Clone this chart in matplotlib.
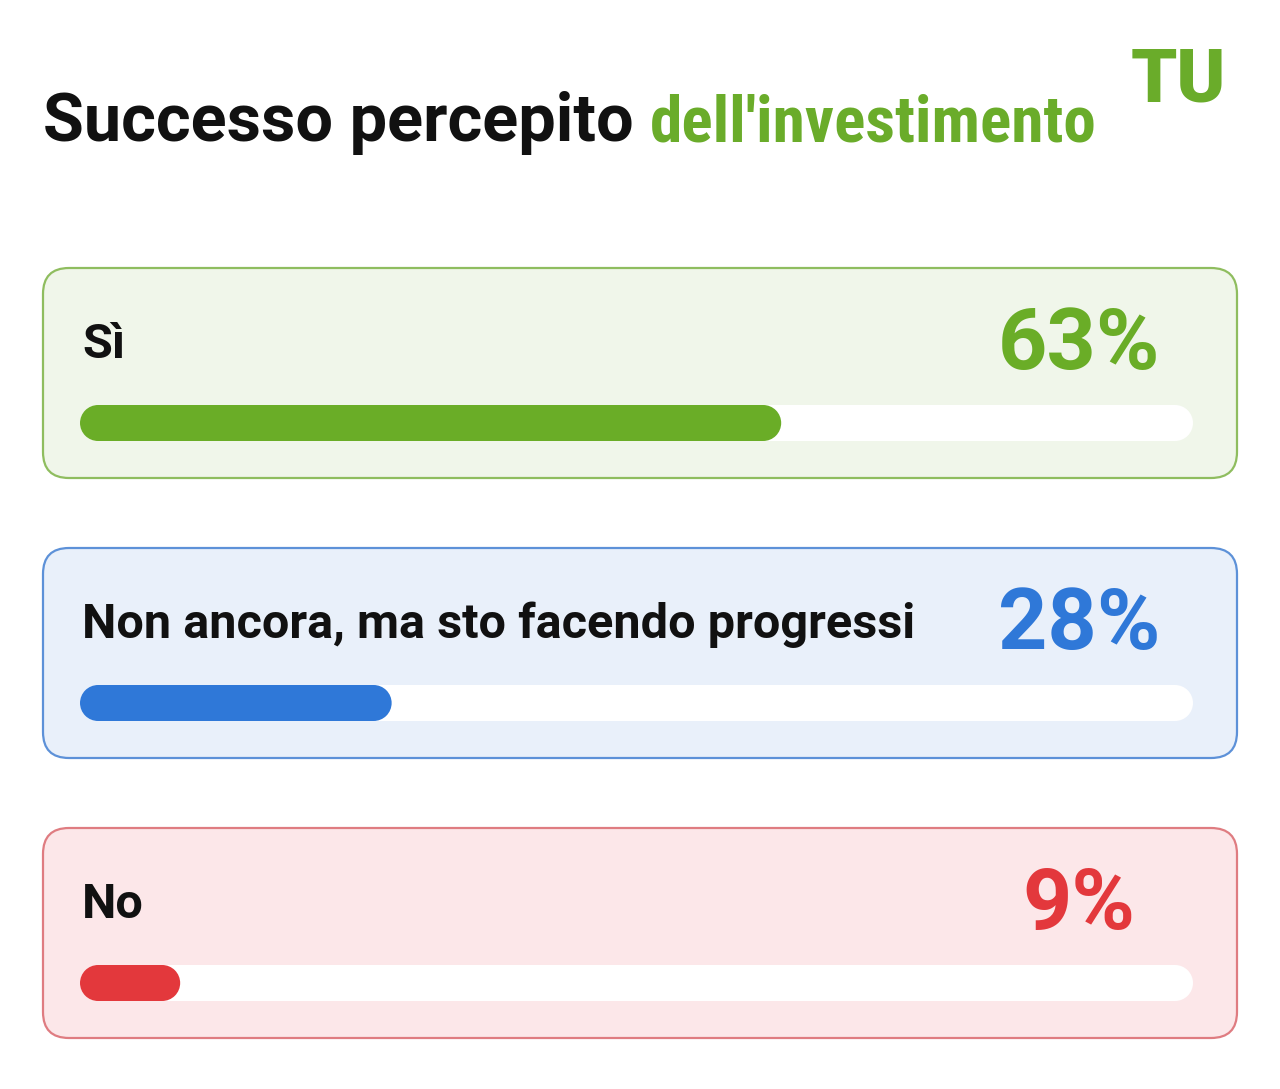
"""Perceived investment success: three progress-bar cards."""

import matplotlib

matplotlib.use("Agg")
import matplotlib.pyplot as plt
from matplotlib import font_manager
from matplotlib.patches import Circle, FancyBboxPatch, Rectangle

plt.rcParams["font.family"] = ["Roboto", "DejaVu Sans"]

# data
labels = ["Sì", "Non ancora, ma sto facendo progressi", "No"]
percents = [63, 28, 9]
value_labels = ["63%", "28%", "9%"]
title_dark = "Successo percepito"
title_green = "dell'investimento"
logo_text = "TU"

# styles
accents = ["#6aad27", "#2f78d8", "#e3383c"]
card_fills = ["#f0f6ea", "#e9f0fa", "#fce7e9"]
card_edges = ["#8fbd5f", "#5d91d8", "#df7c81"]
GREEN = "#6aac2a"

W, H = 1280, 1089

installed = {f.name for f in font_manager.fontManager.ttflist}
if "Roboto Condensed" in installed:
    green_font, green_size = ["Roboto Condensed", "DejaVu Sans"], 47
else:
    green_font, green_size = ["Roboto", "DejaVu Sans"], 42


def pill(ax, start, end, height, color):
    """Rounded bar from start to end in data units (axes has equal aspect)."""
    r = height / 2
    ax.add_patch(Rectangle((start + r, 0), end - start - 2 * r, height,
                           facecolor=color, edgecolor="none"))
    ax.add_patch(Circle((start + r, r), r, facecolor=color, edgecolor="none"))
    ax.add_patch(Circle((end - r, r), r, facecolor=color, edgecolor="none"))


fig = plt.figure(figsize=(W / 100, H / 100), dpi=100)
fig.patch.set_facecolor("white")
bg = fig.add_axes([0, 0, 1, 1])
bg.set_xlim(0, W)
bg.set_ylim(H, 0)
bg.axis("off")

# title
t1 = bg.text(43, 141, title_dark, fontsize=48, fontweight="bold", color="#111111",
             ha="left", va="baseline")
fig.canvas.draw()
ext = t1.get_window_extent()
bg.text(ext.x1 + 16, 141, title_green, fontsize=green_size, fontweight="bold",
        color=GREEN, family=green_font, ha="left", va="baseline")
bg.text(1178, 101, logo_text, fontsize=53, fontweight="black", color=GREEN,
        ha="center", va="baseline")

card_x, card_w, card_h = 43, 1194, 210
track_x, track_w, track_h = 80, 1113, 36
for i, (label, pct, vlabel) in enumerate(zip(labels, percents, value_labels)):
    top = 268 + i * 280
    card = FancyBboxPatch((card_x, top), card_w, card_h,
                          boxstyle="round,pad=0,rounding_size=26",
                          facecolor=card_fills[i], edgecolor=card_edges[i], linewidth=1.6)
    bg.add_patch(card)
    bg.text(82, top + 77, label, fontsize=35, fontweight="bold", color="#111111",
            ha="left", va="center")
    bg.text(1079, top + 77, vlabel, fontsize=62, fontweight="bold", color=accents[i],
            ha="center", va="center")

    # bar track in its own axes, 0..100 scale
    bar_top = top + 137
    ax = fig.add_axes([track_x / W, (H - bar_top - track_h) / H, track_w / W, track_h / H])
    hh = 100 * track_h / track_w
    ax.set_xlim(0, 100)
    ax.set_ylim(0, hh)
    ax.axis("off")
    pill(ax, 0, 100, hh, "white")
    pill(ax, 0, pct, hh, accents[i])

fig.savefig("out.png", dpi=100, facecolor="white")
